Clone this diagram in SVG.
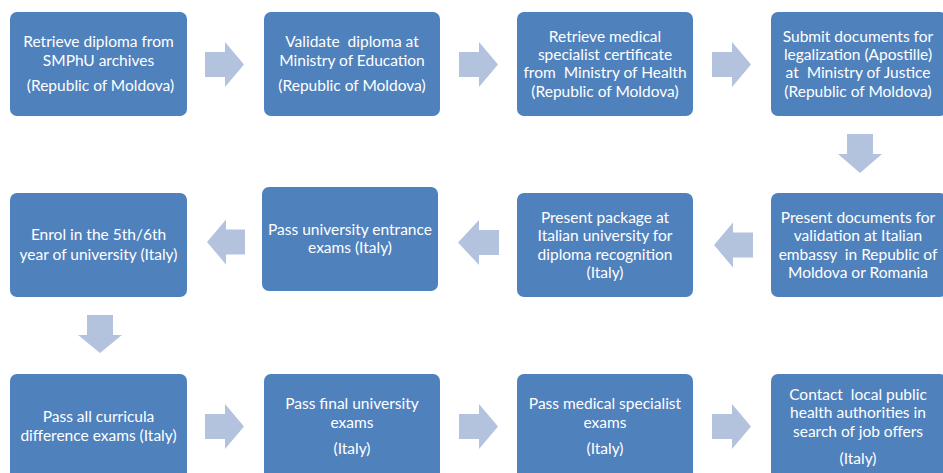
<svg xmlns="http://www.w3.org/2000/svg" width="943" height="473" viewBox="0 0 943 473">
<style>
.box{fill:#4F81BD;}
.arr{fill:#B3C3DE;}
text{font-family:Lato,"Open Sans","Liberation Sans",sans-serif;font-size:15.5px;fill:#FFFFFF;text-anchor:middle;white-space:pre;}
</style>
<rect width="943" height="473" fill="#FFFFFF"/>
<g id="connectors">
<path class="arr" d="M205,52 H225 V42 L244,64.5 L225,87 V77 H205 Z"/>
<path class="arr" d="M459,52 H479 V42 L498,64.5 L479,87 V77 H459 Z"/>
<path class="arr" d="M712,52 H732 V42 L751,64.5 L732,87 V77 H712 Z"/>
<path class="arr" d="M847,134 H873 V154 H882 L860,173 L838,154 H847 Z"/>
<path class="arr" d="M753,232.5 H733 V222.5 L714,245 L733,267.5 V257.5 H753 Z"/>
<path class="arr" d="M499,230 H479 V220 L458,242.5 L479,265 V255 H499 Z"/>
<path class="arr" d="M245,229.5 H226 V219.5 L207,242 L226,264.5 V254.5 H245 Z"/>
<path class="arr" d="M87,315 H113 V335 H122 L100,353 L78,335 H87 Z"/>
<path class="arr" d="M205,414 H225 V404 L244,426.5 L225,449 V439 H205 Z"/>
<path class="arr" d="M459,414 H479 V404 L498,426.5 L479,449 V439 H459 Z"/>
<path class="arr" d="M712,414 H732 V404 L751,426.5 L732,449 V439 H712 Z"/>
</g>
<g id="n1"><rect class="box" x="10" y="12" width="177" height="104" rx="7"/>
<text x="98.5" y="47">Retrieve diploma from</text><text x="98.5" y="66">SMPhU archives</text><text x="98.5" y="91"> (Republic of Moldova)</text></g>
<g id="n2"><rect class="box" x="264" y="12" width="176" height="104" rx="7"/>
<text x="352" y="47">Validate  diploma at</text><text x="352" y="66">Ministry of Education</text><text x="352" y="91">(Republic of Moldova)</text></g>
<g id="n3"><rect class="box" x="517" y="12" width="176" height="104" rx="7"/>
<text x="605" y="42">Retrieve medical</text><text x="605" y="60">specialist certificate</text><text x="605" y="78">from  Ministry of Health</text><text x="605" y="97">(Republic of Moldova)</text></g>
<g id="n4"><rect class="box" x="771" y="12" width="176" height="104" rx="7"/>
<text x="858" y="42">Submit documents for</text><text x="858" y="60">legalization (Apostille)</text><text x="858" y="78">at  Ministry of Justice</text><text x="858" y="97">(Republic of Moldova)</text></g>
<g id="n5"><rect class="box" x="771" y="193" width="176" height="104" rx="7"/>
<text x="858" y="223">Present documents for</text><text x="858" y="241">validation at Italian</text><text x="858" y="260">embassy  in Republic of</text><text x="858" y="278">Moldova or Romania</text></g>
<g id="n6"><rect class="box" x="517" y="193" width="176" height="104" rx="7"/>
<text x="605" y="223">Present package at</text><text x="605" y="241">Italian university for</text><text x="605" y="260">diploma recognition</text><text x="605" y="278">(Italy)</text></g>
<g id="n7"><rect class="box" x="262" y="187" width="176" height="104" rx="7"/>
<text x="350" y="235">Pass university entrance</text><text x="350" y="253">exams (Italy)</text></g>
<g id="n8"><rect class="box" x="10" y="193" width="177" height="104" rx="7"/>
<text x="98.5" y="240">Enrol in the 5th/6th</text><text x="98.5" y="260">year of university (Italy)</text></g>
<g id="n9"><rect class="box" x="10" y="374" width="177" height="110" rx="7"/>
<text x="98.5" y="422">Pass all curricula</text><text x="98.5" y="441">difference exams (Italy)</text></g>
<g id="n10"><rect class="box" x="264" y="374" width="176" height="110" rx="7"/>
<text x="352" y="409">Pass final university</text><text x="352" y="428">exams</text><text x="352" y="454">(Italy)</text></g>
<g id="n11"><rect class="box" x="517" y="374" width="176" height="110" rx="7"/>
<text x="605" y="409">Pass medical specialist</text><text x="605" y="428">exams</text><text x="605" y="454">(Italy)</text></g>
<g id="n12"><rect class="box" x="771" y="374" width="176" height="110" rx="7"/>
<text x="858" y="400">Contact  local public</text><text x="858" y="418">health authorities in</text><text x="858" y="437">search of job offers</text><text x="858" y="464">(Italy)</text></g>
</svg>
